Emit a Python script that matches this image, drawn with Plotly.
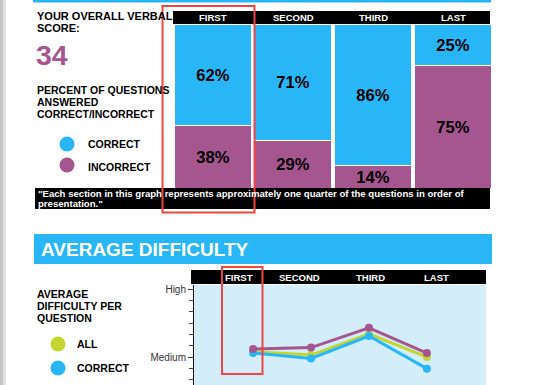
import plotly.graph_objects as go

W, H = 553, 385

# ---- data ----
sections = ["FIRST", "SECOND", "THIRD", "LAST"]
pct_correct = [62, 71, 86, 25]
pct_incorrect = [38, 29, 14, 75]

# difficulty scale: Medium = 2, High = 3
difficulty_levels = [2, 3]
difficulty_labels = ["Medium", "High"]
diff_all = [2.08, 2.03, 2.34, 2.00]
diff_correct = [2.06, 1.98, 2.31, 1.83]
diff_incorrect = [2.12, 2.14, 2.43, 2.06]

overall_score = "34"

BLUE = "#29B6F6"
PURPLE = "#A6568F"
GREEN = "#C3D52E"
LIGHTBG = "#D3EDF9"
RED = "#EF4545"
FONT = "Liberation Sans, Arial, sans-serif"


def X(p):
    return p / W


def Y(p):
    return 1 - p / H


fig = go.Figure()

# top stacked bars
fig.add_trace(go.Bar(
    x=sections, y=pct_incorrect, name="INCORRECT", marker=dict(color=PURPLE, line=dict(color="white", width=1)),
    text=[f"{v}%" for v in pct_incorrect], textposition="inside", insidetextanchor="middle",
    constraintext="none", textfont=dict(family=FONT, size=16.5, color="black", weight="bold"),
    xaxis="x", yaxis="y", showlegend=False, hoverinfo="skip"))
fig.add_trace(go.Bar(
    x=sections, y=pct_correct, name="CORRECT", marker=dict(color=BLUE, line=dict(color="white", width=1)),
    text=[f"{v}%" for v in pct_correct], textposition="inside", insidetextanchor="middle",
    constraintext="none", textfont=dict(family=FONT, size=16.5, color="black", weight="bold"),
    xaxis="x", yaxis="y", showlegend=False, hoverinfo="skip"))

# bottom lines
for vals, col, nm in [(diff_all, GREEN, "ALL"), (diff_correct, BLUE, "CORRECT"), (diff_incorrect, PURPLE, "INCORRECT")]:
    fig.add_trace(go.Scatter(
        x=sections, y=vals, mode="lines+markers", name=nm,
        line=dict(color=col, width=3), marker=dict(color=col, size=8),
        xaxis="x2", yaxis="y2", showlegend=False, cliponaxis=False, hoverinfo="skip"))

fig.update_layout(
    width=W, height=H, margin=dict(l=0, r=0, t=0, b=0),
    paper_bgcolor="white", plot_bgcolor="rgba(0,0,0,0)",
    barmode="stack", bargap=0.03,
    font=dict(family=FONT),
    xaxis=dict(domain=[X(173), X(493)], anchor="y", visible=False, fixedrange=True),
    yaxis=dict(domain=[Y(188), Y(24)], range=[0, 100], visible=False),
    xaxis2=dict(domain=[X(194), X(486)], anchor="y2", range=[-1.02, 4.02], visible=False),
    yaxis2=dict(domain=[0, Y(285)], anchor="x2", range=[1.59, 3.06],
                tickvals=difficulty_levels, ticktext=difficulty_labels,
                ticks="outside", ticklen=5, tickcolor="#333", tickwidth=1,
                showline=True, linecolor="#111", linewidth=1, showgrid=False, zeroline=False,
                tickfont=dict(family=FONT, size=10, color="#333"),
                minor=dict(dtick=1 / 6, tick0=2, ticks="outside", ticklen=4, tickcolor="#444")),
)

shapes = []


def rect(x0, y0, x1, y1, fill, layer="below", line=None):
    d = dict(type="rect", xref="paper", yref="paper", x0=X(x0), x1=X(x1), y0=Y(y1), y1=Y(y0),
             fillcolor=fill, layer=layer, line=dict(width=0))
    if line:
        d["line"] = line
        d["fillcolor"] = "rgba(0,0,0,0)"
    shapes.append(d)


def circle(cx, cy, r, fill):
    shapes.append(dict(type="circle", xref="paper", yref="paper", x0=X(cx - r), x1=X(cx + r),
                       y0=Y(cy + r), y1=Y(cy - r), fillcolor=fill, line=dict(width=0), layer="above"))


rect(0, 0, 3, 385, "#c4c4c4")
rect(3, 0, 6, 385, "#e2e2e2")
rect(33, 0, 491, 2.5, BLUE)
rect(173, 11, 490, 24, "black")
rect(35, 188, 490, 209, "black")
rect(34, 234, 492, 264, BLUE)
rect(191, 270, 486, 284, "black")
shapes.append(dict(type="rect", xref="x2 domain", yref="y2 domain", x0=0, x1=1, y0=0, y1=1,
                   fillcolor=LIGHTBG, line=dict(width=0), layer="below"))
circle(67, 144, 7.5, BLUE)
circle(67, 165, 7.5, PURPLE)
circle(58, 344, 7.5, GREEN)
circle(58, 368, 7.5, BLUE)
rect(162.5, 6, 254.5, 212.5, None, layer="above", line=dict(color=RED, width=2))
rect(222, 267, 262.5, 374, None, layer="above", line=dict(color=RED, width=2))
fig.update_layout(shapes=shapes)

ann = []


def txt(x, y, s, size=10.5, color="black", bold=True, xanchor="left"):
    ann.append(dict(xref="paper", yref="paper", x=X(x), y=Y(y), text=s, showarrow=False,
                    xanchor=xanchor, yanchor="middle",
                    font=dict(family=FONT, size=size, color=color, weight="bold" if bold else "normal")))


txt(35, 16.5, "YOUR OVERALL VERBAL", size=11)
txt(35, 28, "SCORE:", size=11)
txt(34, 55, overall_score, size=28.5, color=PURPLE)
txt(35, 90, "PERCENT OF QUESTIONS")
txt(35, 102, "ANSWERED")
txt(35, 114, "CORRECT/INCORRECT")
txt(86, 144, "CORRECT")
txt(86, 167, "INCORRECT")
txt(36, 193.5, "\"Each section in this graph represents approximately one quarter of the questions in order of",
    size=9.6, color="white")
txt(36, 203.5, "presentation.\"", size=9.6, color="white")
txt(39, 249, "AVERAGE DIFFICULTY", size=19, color="white")
txt(35, 294, "AVERAGE")
txt(35, 306, "DIFFICULTY PER")
txt(35, 318, "QUESTION")
txt(75, 344, "ALL")
txt(75, 368, "CORRECT")

# top header labels on bar categories
for s in sections:
    ann.append(dict(xref="x", yref="paper", x=s, y=Y(17.5), text=s, showarrow=False,
                    xanchor="center", yanchor="middle",
                    font=dict(family=FONT, size=9.5, color="white", weight="bold")))
# bottom header labels
for s, px in zip(sections, [239, 299, 370, 436]):
    txt(px, 277, s, size=9.5, color="white", xanchor="center")

fig.update_layout(annotations=ann)

fig.write_html("out.html", config={"displayModeBar": False, "staticPlot": True},
               post_script="document.body.style.margin='0';document.body.style.padding='0';"
                           "document.documentElement.style.overflow='hidden';")
